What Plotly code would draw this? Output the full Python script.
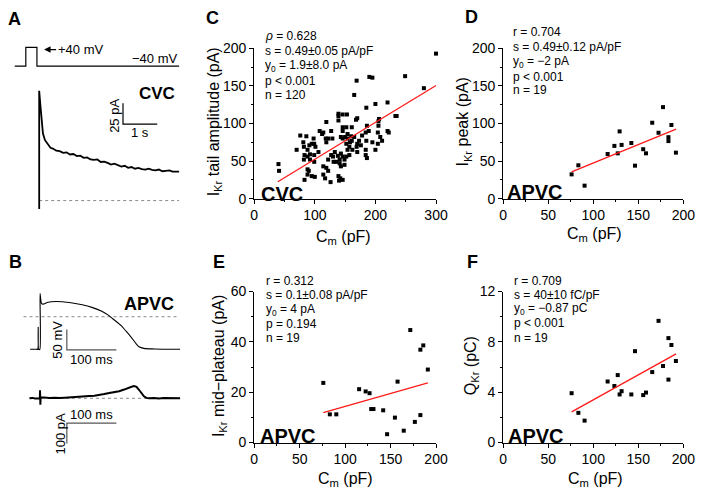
import plotly.graph_objects as go

W, H = 708, 496
FONT = "Arial, Liberation Sans, sans-serif"


def X(px):
    return px / W


def Y(py):
    return 1 - py / H


# ---------------- data ----------------
# Panel A: voltage protocol (s, mV) and CVC current (s, pA)
prot_t = [-0.714, -0.391, -0.391, -0.066, -0.066, 4.09]
prot_v = [-40, -40, 40, 40, -40, -40]
cvc_t = [0, 0, 0.03, 0.06, 0.11, 0.17, 0.26, 0.33, 0.4, 0.5, 0.6, 0.7, 0.8, 0.9, 1.0, 1.1, 1.2,
         1.3, 1.4, 1.5, 1.6, 1.7, 1.8, 1.9, 2.0, 2.1, 2.2, 2.3, 2.4, 2.5, 2.6, 2.7, 2.8, 2.9,
         3.0, 3.1, 3.2, 3.3, 3.4, 3.5, 3.6, 3.7, 3.8, 3.9, 4.0, 4.09]
cvc_i = [-10, 131, 116, 101, 80, 72, 66, 63, 62, 59.5, 59, 57, 57.5, 55, 55.5, 53, 53.5,
         51, 51.5, 49, 48.5, 49, 46, 46.5, 45, 43, 44, 42, 40.5, 41.5, 39, 40, 38, 39,
         37.5, 37, 38, 36.5, 36, 37, 35, 35.5, 36, 34.5, 35, 34.6]

# Panel B: action potential (ms, mV) and APVC current (ms, pA)
ap_t = [-19.7, -7.3, -4.3, -3.4, -2.4, 0, 0.4, 3.2, 6.5, 16.4, 32.7, 59.2, 85.4, 105, 125,
        138, 151, 164, 174, 184, 194, 200, 210, 230, 283]
ap_v = [-80.2, -80.2, -80.2, -26, -80.2, -80.2, 57, 33, 31, 35.7, 37.4, 35, 29.3, 23, 13.6,
        4, -8.8, -22, -35.7, -50, -66, -73.8, -77.9, -79.3, -80.2]
apc_t = [-21, -15, -10, -5, -2, 0, 0.3, 0.6, 1.0, 1.5, 3, 10, 20, 30, 40, 50, 60, 70, 80, 90,
         100, 110, 120, 130, 140, 150, 160, 170, 175, 180, 185, 190, 195, 200, 205, 210,
         215, 220, 230, 240, 250, 260, 270, 283]
apc_i = [0, 2, -1, 1, -1, 0, 40, 0, -32, 0, 5, 2, 1, 3, 1, 3, 4, 5, 7, 8,
         11, 13, 16, 21, 26, 30, 35, 43, 48, 54, 57, 60, 56, 42, 26, 10,
         2, 0, 1, -1, 1, 0, 1, 0]

# Panel C: CVC, Cm (pF) vs IKr tail amplitude (pA)
c_cm = [300, 280, 249, 190, 195, 169, 165, 220, 200, 185, 233, 235, 206, 205, 168, 170, 119,
        139, 139, 139, 146, 153, 146, 152, 161, 186, 189, 184, 205, 204, 220, 222, 185, 173,
        170, 146, 143, 146, 150, 154, 160, 158, 161, 152, 127, 114, 112, 118, 122, 129, 86,
        98, 81, 99, 119, 70, 82, 88, 101, 83, 92, 88, 99, 106, 82, 92, 99, 88, 90, 88, 95,
        100, 83, 114, 114, 119, 122, 117, 126, 130, 131, 138, 143, 141, 146, 149, 152, 141,
        149, 143, 139, 142, 146, 140, 154, 157, 162, 170, 184, 184, 186, 200, 204, 169, 176,
        127, 76, 95, 135, 157, 154, 108, 133, 195, 211, 208, 122, 91, 165, 178, 40, 41]
c_ikr = [193, 147, 163, 162, 161, 157, 138, 128, 126, 121, 110, 110, 106, 103, 105, 107, 102,
         113, 110, 104, 112, 112, 95, 95, 95, 97, 90, 88, 97, 88, 90, 88, 77, 77,
         73, 90, 82, 80, 82, 80, 83, 75, 77, 73, 90, 88, 86, 80, 80, 80, 83,
         80, 75, 73, 75, 65, 69, 65, 69, 58, 59, 56, 58, 62, 52, 52, 49, 39, 37, 32, 30,
         29, 25, 43, 32, 41, 37, 27, 22, 56, 49, 57, 60, 52, 56, 52, 56, 47,
         45, 43, 30, 27, 25, 24, 65, 69, 65, 62, 65, 58, 54, 65, 73, 69, 71,
         58, 84, 73, 49, 58, 86, 90, 62, 75, 77, 82, 52, 71, 82, 84, 46, 37]
c_fit_x = [39, 300]
c_fit_y = [22.4, 150.5]

# Panels D-F: APVC cells (n = 19)
apvc_cm = [76, 83.5, 90.4, 116, 123.5, 127.2, 129.3, 131.5, 142.3, 146.4, 155.5, 158.6,
           165.5, 172.5, 177.5, 183.5, 183.5, 186.8, 191.8]
d_peak = [32.3, 44.4, 17.3, 59.4, 70.2, 60.3, 89.5, 71.5, 74, 43.9, 65.8, 60.3,
          101, 87.7, 121.8, 81.8, 76.6, 98, 61.2]
e_cm = [76, 83.2, 90.3, 115.4, 122.6, 126.9, 128.7, 131.2, 141.9, 146.2, 154.8, 157.7,
        164.5, 171.7, 176.7, 182.8, 182.8, 186, 191]
e_mid = [23.7, 11.2, 11.2, 21.2, 20.3, 19.6, 13.3, 13.3, 12.8, 3.3, 9.9, 24.2,
         4.7, 44.7, 8.2, 36.9, 10.9, 38.6, 29]
f_q = [3.92, 2.36, 1.74, 4.85, 4.49, 5.36, 3.82, 4.08, 3.82, 7.26, 3.77, 3.97,
       5.6, 9.67, 6.08, 8.3, 5.0, 7.75, 6.48]
d_fit_x, d_fit_y = [76, 192], [35.7, 92.5]
e_fit_x, e_fit_y = [76, 191], [11.9, 23.7]
f_fit_x, f_fit_y = [76, 192], [2.44, 7.05]

c_stats = ["<i>ρ</i> = 0.628", "s = 0.49±0.05 pA/pF", "y<sub>0</sub> = 1.9±8.0 pA",
           "p < 0.001", "n = 120"]
d_stats = ["r = 0.704", "s = 0.49±0.12 pA/pF", "y<sub>0</sub> = −2 pA", "p < 0.001", "n = 19"]
e_stats = ["r = 0.312", "s = 0.1±0.08 pA/pF", "y<sub>0</sub> = 4 pA", "p = 0.194", "n = 19"]
f_stats = ["r = 0.709", "s = 40±10 fC/pF", "y<sub>0</sub> = −0.87 pC", "p < 0.001", "n = 19"]

# ---------------- figure ----------------
fig = go.Figure()

scatter_axes = {
    "C": ("x", "y", c_cm, c_ikr, c_fit_x, c_fit_y),
    "D": ("x2", "y2", apvc_cm, d_peak, d_fit_x, d_fit_y),
    "E": ("x3", "y3", e_cm, e_mid, e_fit_x, e_fit_y),
    "F": ("x4", "y4", apvc_cm, f_q, f_fit_x, f_fit_y),
}
for key, (xa, ya, xs, ys, fx, fy) in scatter_axes.items():
    fig.add_trace(go.Scatter(x=xs, y=ys, mode="markers", xaxis=xa, yaxis=ya,
                             marker=dict(symbol="square", size=4, color="black",
                                         line=dict(width=0)),
                             cliponaxis=False))
    fig.add_trace(go.Scatter(x=fx, y=fy, mode="lines", xaxis=xa, yaxis=ya,
                             line=dict(color="#ff1a1a", width=1.3)))

# Panel A
fig.add_trace(go.Scatter(x=prot_t, y=prot_v, mode="lines", xaxis="x6", yaxis="y6",
                         line=dict(color="black", width=1.2)))
fig.add_trace(go.Scatter(x=[0, 4.09], y=[0, 0], mode="lines", xaxis="x5", yaxis="y5",
                         line=dict(color="#888", width=1, dash="dot")))
fig.add_trace(go.Scatter(x=cvc_t, y=cvc_i, mode="lines", xaxis="x5", yaxis="y5",
                         line=dict(color="black", width=1.8)))
# scale bar A: 25 pA, 1 s
sb_t0, sb_i0 = 2.45, 91.1
fig.add_trace(go.Scatter(x=[sb_t0, sb_t0, sb_t0 + 1], y=[sb_i0 + 25, sb_i0, sb_i0],
                         mode="lines", xaxis="x5", yaxis="y5",
                         line=dict(color="black", width=1.2)))

# Panel B
fig.add_trace(go.Scatter(x=[-33, 277], y=[0, 0], mode="lines", xaxis="x7", yaxis="y7",
                         line=dict(color="#888", width=1, dash="dot")))
fig.add_trace(go.Scatter(x=ap_t, y=ap_v, mode="lines", xaxis="x7", yaxis="y7",
                         line=dict(color="black", width=1.1, shape="spline", smoothing=0.6)))
sb_bt0, sb_v0 = 54.4, -81.7
fig.add_trace(go.Scatter(x=[sb_bt0, sb_bt0, sb_bt0 + 100], y=[sb_v0 + 50, sb_v0, sb_v0],
                         mode="lines", xaxis="x7", yaxis="y7",
                         line=dict(color="#555", width=1.2)))
fig.add_trace(go.Scatter(x=[-20, 283], y=[0, 0], mode="lines", xaxis="x8", yaxis="y8",
                         line=dict(color="#888", width=1, dash="dot")))
fig.add_trace(go.Scatter(x=apc_t, y=apc_i, mode="lines", xaxis="x8", yaxis="y8",
                         line=dict(color="black", width=2)))
sb_i1 = -122
fig.add_trace(go.Scatter(x=[sb_bt0 + 100, sb_bt0, sb_bt0], y=[sb_i1, sb_i1, sb_i1 - 100],
                         mode="lines", xaxis="x8", yaxis="y8",
                         line=dict(color="#555", width=1.2)))

# ---------------- axes ----------------
def sc_axis(domain, rng, tickvals, minor_dtick):
    return dict(domain=domain, range=rng, tickvals=tickvals, showline=True,
                linecolor="black", linewidth=1, ticks="outside", ticklen=4, tickwidth=1,
                tickcolor="black", showgrid=False, zeroline=False,
                tickfont=dict(family=FONT, size=14, color="black"),
                minor=dict(dtick=minor_dtick, tick0=0, ticks="outside", ticklen=2,
                           tickcolor="black", showgrid=False))


xC = [X(256), X(442)]
xD = [X(510.7), X(695)]
yTop = [Y(197), Y(41.7)]
yBot = [Y(449), Y(293)]

hidden = dict(visible=False, showgrid=False, zeroline=False)

layout = dict(
    width=W, height=H, margin=dict(l=0, r=0, t=0, b=0),
    paper_bgcolor="white", plot_bgcolor="white", showlegend=False,
    font=dict(family=FONT, color="black"),
    xaxis=sc_axis(xC, [0, 300], [0, 100, 200, 300], 50),
    yaxis=sc_axis(yTop, [0, 200], [0, 50, 100, 150, 200], 25),
    xaxis2=dict(sc_axis(xD, [0, 200], [0, 50, 100, 150, 200], 25), anchor="y2"),
    yaxis2=dict(sc_axis(yTop, [0, 200], [0, 50, 100, 150, 200], 25), anchor="x2"),
    xaxis3=dict(sc_axis(xC, [0, 200], [0, 50, 100, 150, 200], 25), anchor="y3"),
    yaxis3=dict(sc_axis(yBot, [0, 60], [0, 20, 40, 60], 10), anchor="x3"),
    xaxis4=dict(sc_axis(xD, [0, 200], [0, 50, 100, 150, 200], 25), anchor="y4"),
    yaxis4=dict(sc_axis(yBot, [0, 12], [0, 4, 8, 12], 2), anchor="x4"),
    xaxis5=dict(hidden, domain=[X(10), X(185)], range=[-0.743, 4.257], anchor="y5"),
    yaxis5=dict(hidden, domain=[Y(212), Y(80)], range=[-15.0, 137.3], anchor="x5"),
    xaxis6=dict(hidden, domain=[X(10), X(185)], range=[-0.743, 4.257], anchor="y6"),
    yaxis6=dict(hidden, domain=[Y(65), Y(35)], range=[-60.7, 63.6], anchor="x6"),
    xaxis7=dict(hidden, domain=[X(15), X(185)], range=[-42.8, 292.5], anchor="y7"),
    yaxis7=dict(hidden, domain=[Y(360), Y(285)], range=[-97.6, 81.0], anchor="x7"),
    xaxis8=dict(hidden, domain=[X(15), X(185)], range=[-42.8, 292.5], anchor="y8"),
    yaxis8=dict(hidden, domain=[Y(455), Y(380)], range=[-246.2, 111.0], anchor="x8"),
)
fig.update_layout(**layout)

anns = []


def ann(text, px, py, size=12, bold=False, xanchor="left", yanchor="middle", angle=0,
        color="black"):
    if bold:
        text = "<b>" + text + "</b>"
    anns.append(dict(text=text, x=X(px), y=Y(py), xref="paper", yref="paper",
                     xanchor=xanchor, yanchor=yanchor, showarrow=False, textangle=angle,
                     font=dict(family=FONT, size=size, color=color)))


# panel letters
for letter, px, py in [("A", 2, 11), ("B", 3, 262), ("C", 205, 10), ("D", 470, 9),
                       ("E", 212, 262), ("F", 472, 262)]:
    ann(letter, px, py, size=18, bold=True)

# stats text
for lines, px, pys in [(c_stats, 265, [29, 44, 60, 75, 90]),
                       (d_stats, 519, [25, 40, 56, 71, 85]),
                       (e_stats, 266, [282, 297, 312, 327, 341]),
                       (f_stats, 520, [282, 297, 311, 326, 341])]:
    for t, py in zip(lines, pys):
        ann(t, px, py, size=12)

# group labels in scatter panels
ann("CVC", 261, 192, size=20, bold=True)
ann("APVC", 513, 190, size=20, bold=True)
ann("APVC", 260, 442, size=20, bold=True)
ann("APVC", 514, 442, size=20, bold=True)

# axis titles
xt = "C<sub>m</sub> (pF)"
ann(xt, 347, 237, size=16, xanchor="center")
ann(xt, 604, 234, size=16, xanchor="center")
ann(xt, 349, 487, size=16, xanchor="center")
ann(xt, 605, 487, size=16, xanchor="center")
ann("I<sub>Kr</sub> tail amplitude (pA)", 215, 118, size=16, xanchor="center", angle=-90)
ann("I<sub>Kr</sub> peak (pA)", 470, 118, size=16, xanchor="center", angle=-90)
ann("I<sub>Kr</sub> mid−plateau (pA)", 220, 370, size=16, xanchor="center", angle=-90)
ann("Q<sub>Kr</sub> (pC)", 478, 370, size=16, xanchor="center", angle=-90)

# panel A texts
ann("−40 mV", 179, 52, size=13, xanchor="right")
anns.append(dict(text="+40 mV", x=X(41), y=Y(43), xref="paper", yref="paper",
                 ax=36, ay=0, showarrow=True, arrowhead=2, arrowsize=1, arrowwidth=1.3,
                 arrowcolor="black", font=dict(family=FONT, size=13, color="black")))
ann("CVC", 177, 88, size=17, bold=True, xanchor="right")
ann("25 pA", 113, 111, size=13, xanchor="center", angle=-90)
ann("1 s", 139, 129, size=13, xanchor="center")

# panel B texts
ann("APVC", 176, 306, size=18, bold=True, xanchor="right")
ann("50 mV", 55, 343, size=13, xanchor="center", angle=-90)
ann("100 ms", 90, 363, size=13, xanchor="center")
ann("100 ms", 90, 420, size=13, xanchor="center")
ann("100 pA", 58, 440, size=13, xanchor="center", angle=-90)

fig.update_layout(annotations=anns)
fig.write_html("out.html")
